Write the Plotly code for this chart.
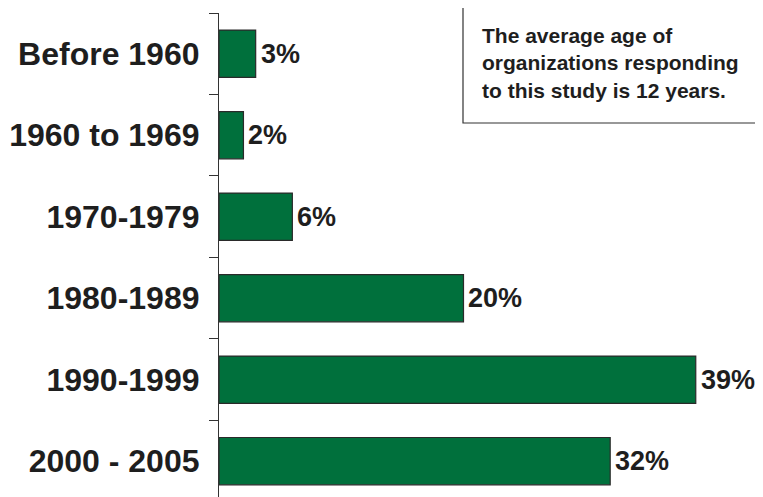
import plotly.graph_objects as go

categories = ["Before 1960", "1960 to 1969", "1970-1979", "1980-1989", "1990-1999", "2000 - 2005"]
values = [3, 2, 6, 20, 39, 32]
value_labels = ["3%", "2%", "6%", "20%", "39%", "32%"]
note_lines = ["The average age of", "organizations responding", "to this study is 12 years."]

# page body has an 8px margin, so the figure content is shifted by 8px
OFF = 8
W, H = 763 - OFF, 497 - OFF
ml, mt = 219 - OFF, 13 - OFF
pw, ph = W - ml, H - mt

fig = go.Figure()
fig.add_trace(go.Bar(
    y=categories, x=values, orientation="h",
    width=0.58,
    marker=dict(color="#00703c", line=dict(color="#2a2a2a", width=1.2)),
    hoverinfo="skip",
))

for cat, v, lab in zip(categories, values, value_labels):
    fig.add_annotation(x=v, y=cat, xref="x", yref="y", text=lab, showarrow=False,
                       xanchor="left", yanchor="middle", xshift=3,
                       font=dict(family="Liberation Sans, Arial", size=27, color="#1e1e1e", weight="bold"))

def px_x(x):
    return (x - OFF - ml) / pw

def px_y(y):
    return (mt + ph - (y - OFF)) / ph

bx0, bx1 = px_x(463), px_x(800)
by0, by1 = px_y(123), px_y(7)
fig.add_shape(type="path", xref="paper", yref="paper",
              path=f"M {bx1},{by1} L {bx0},{by1} L {bx0},{by0} L {bx1},{by0}",
              line=dict(color="#333333", width=1.2))
fig.add_annotation(xref="paper", yref="paper", x=px_x(480), y=px_y(22),
                   xanchor="left", yanchor="top", align="left", showarrow=False,
                   text="<br>".join(note_lines),
                   font=dict(family="Liberation Sans, Arial", size=21, color="#1e1e1e", weight="bold"))

fig.update_layout(
    width=W, height=H,
    margin=dict(l=ml, r=0, t=mt, b=0, autoexpand=False),
    paper_bgcolor="white", plot_bgcolor="white",
    showlegend=False,
    xaxis=dict(visible=False, range=[0, 44.5], automargin=False),
    yaxis=dict(
        type="category", categoryorder="array", categoryarray=categories,
        range=[5.44, -0.5], tickson="boundaries", ticks="outside", ticklen=9,
        tickcolor="#333333", tickwidth=1.2, showline=True, linecolor="#333333", linewidth=1.2,
        showgrid=False, ticklabelstandoff=12, automargin=False,
        tickfont=dict(family="Liberation Sans, Arial", size=32, color="#1e1e1e", weight="bold"),
    ),
)

fig.write_html("out.html")
